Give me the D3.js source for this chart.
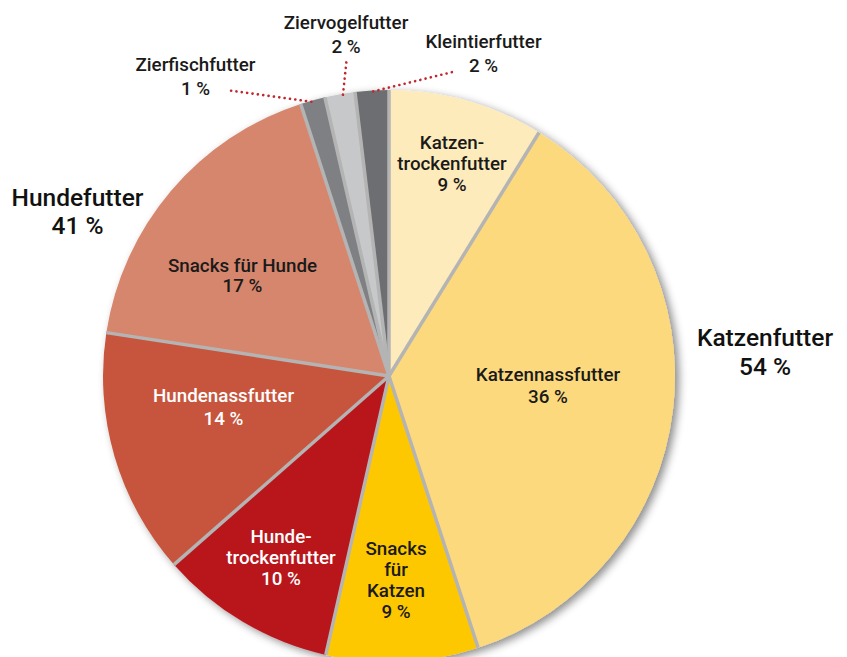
<!DOCTYPE html>
<html>
<head>
<meta charset="utf-8">
<script src="https://cdn.jsdelivr.net/npm/d3@7"></script>
<style>
  body { margin: 0; background: #fff; }
  svg { display: block; font-family: Roboto, "Noto Sans", sans-serif; }
</style>
</head>
<body>
<div id="chart"></div>
<script>
// Slices in clockwise order starting at 12 o'clock
var categories = ["Katzentrockenfutter", "Katzennassfutter", "Snacks für Katzen",
  "Hundetrockenfutter", "Hundenassfutter", "Snacks für Hunde",
  "Zierfischfutter", "Ziervogelfutter", "Kleintierfutter"];
// slice shares as drawn in the picture (the printed labels are rounded)
var shares = [8.8, 36.2, 8.6, 10.0, 13.9, 17.6, 1.4, 1.7, 1.9];
var colors = ["#feebbb", "#fdd97e", "#fec800", "#b9181e", "#c7553c", "#d6866d",
  "#7f8083", "#c7c8ca", "#6d6e71"];
// label lines inside the slices
var innerLabels = [
  ["Katzen-", "trockenfutter", "9 %"],
  ["Katzennassfutter", "36 %"],
  ["Snacks", "für", "Katzen", "9 %"],
  ["Hunde-", "trockenfutter", "10 %"],
  ["Hundenassfutter", "14 %"],
  ["Snacks für Hunde", "17 %"],
  null, null, null
];
var smallLabels = [null, null, null, null, null, null,
  ["Zierfischfutter", "1 %"], ["Ziervogelfutter", "2 %"], ["Kleintierfutter", "2 %"]];
var groupNames = ["Katzenfutter", "Hundefutter"];
var groupShares = ["54 %", "41 %"];

var width = 847, height = 657;
var cx = 389, cy = 376, radius = 286;

var svg = d3.select("#chart").append("svg")
  .attr("width", width)
  .attr("height", height);

var defs = svg.append("defs");
var shadow = defs.append("filter").attr("id", "shadow")
  .attr("x", "-10%").attr("y", "-10%").attr("width", "130%").attr("height", "130%");
shadow.append("feDropShadow")
  .attr("dx", 4).attr("dy", 3).attr("stdDeviation", 4)
  .attr("flood-color", "#000").attr("flood-opacity", 0.45);

var data = categories.map(function (c, i) {
  return { name: c, value: shares[i], color: colors[i], inner: innerLabels[i], small: smallLabels[i] };
});

var pie = d3.pie().sort(null).value(function (d) { return d.value; });
var arcs = pie(data);

var arc = d3.arc().innerRadius(0).outerRadius(radius);

var g = svg.append("g").attr("transform", "translate(" + cx + "," + cy + ")");

// the slices
g.append("g")
  .attr("filter", "url(#shadow)")
  .selectAll("path")
  .data(arcs)
  .join("path")
  .attr("d", arc)
  .attr("fill", function (d) { return d.data.color; });

// grey separators between slices
g.append("g")
  .selectAll("line")
  .data(arcs)
  .join("line")
  .attr("x1", 0).attr("y1", 0)
  .attr("x2", function (d) { return Math.sin(d.startAngle) * radius; })
  .attr("y2", function (d) { return -Math.cos(d.startAngle) * radius; })
  .attr("stroke", "#b4b4b4")
  .attr("stroke-width", 3.5);

// inner labels: [center x, first baseline, line step]
var labelPos = {
  "Katzentrockenfutter": [452, 149, 20.8],
  "Katzennassfutter": [548, 381, 22],
  "Snacks für Katzen": [396, 555, 21],
  "Hundetrockenfutter": [281, 543, 21.2],
  "Hundenassfutter": [223.5, 402, 22.5],
  "Snacks für Hunde": [242.5, 272, 20]
};

arcs.forEach(function (d) {
  if (!d.data.inner) return;
  var p = labelPos[d.data.name];
  var light = d.data.name === "Hundetrockenfutter" || d.data.name === "Hundenassfutter";
  var t = svg.append("text")
    .attr("text-anchor", "middle")
    .attr("font-size", 18.8)
    .attr("font-weight", 500)
    .attr("fill", light ? "#ffffff" : "#1a1a1a")
    .attr("y", p[1]);
  d.data.inner.forEach(function (line, i) {
    t.append("tspan").attr("x", p[0]).attr("dy", i === 0 ? 0 : p[2]).text(line);
  });
});

// small slices: labels outside with dotted leader lines
var smallPos = {
  "Zierfischfutter": { text: [195.5, 71], from: 344.2, to: [226, 90] },
  "Ziervogelfutter": { text: [346, 29], from: 350.7, to: [346.7, 59] },
  "Kleintierfutter": { text: [483.5, 48], from: 356.8, to: [456.7, 71] }
};
arcs.forEach(function (d) {
  if (!d.data.small) return;
  var s = smallPos[d.data.name];
  var a = s.from * Math.PI / 180;
  var x0 = cx + Math.sin(a) * (radius - 1);
  var y0 = cy - Math.cos(a) * (radius - 1);
  svg.append("line")
    .attr("x1", x0).attr("y1", y0)
    .attr("x2", s.to[0]).attr("y2", s.to[1])
    .attr("stroke", "#c1272d")
    .attr("stroke-width", 2.6)
    .attr("stroke-linecap", "round")
    .attr("stroke-dasharray", "0.1 5.3");
  var t = svg.append("text")
    .attr("text-anchor", "middle")
    .attr("font-size", 18.8)
    .attr("font-weight", 500)
    .attr("fill", "#1a1a1a")
    .attr("y", s.text[1]);
  d.data.small.forEach(function (line, i) {
    t.append("tspan").attr("x", s.text[0]).attr("dy", i === 0 ? 0 : 23.5).text(line);
  });
});

// group totals
var groupPos = [[765, 346], [77.5, 205.7]];
groupNames.forEach(function (name, i) {
  var t = svg.append("text")
    .attr("text-anchor", "middle")
    .attr("font-size", 24.5)
    .attr("font-weight", 500)
    .attr("fill", "#111")
    .attr("y", groupPos[i][1]);
  t.append("tspan").attr("x", groupPos[i][0]).text(name);
  t.append("tspan").attr("x", groupPos[i][0]).attr("dy", 28.5).text(groupShares[i]);
});
</script>
</body>
</html>
